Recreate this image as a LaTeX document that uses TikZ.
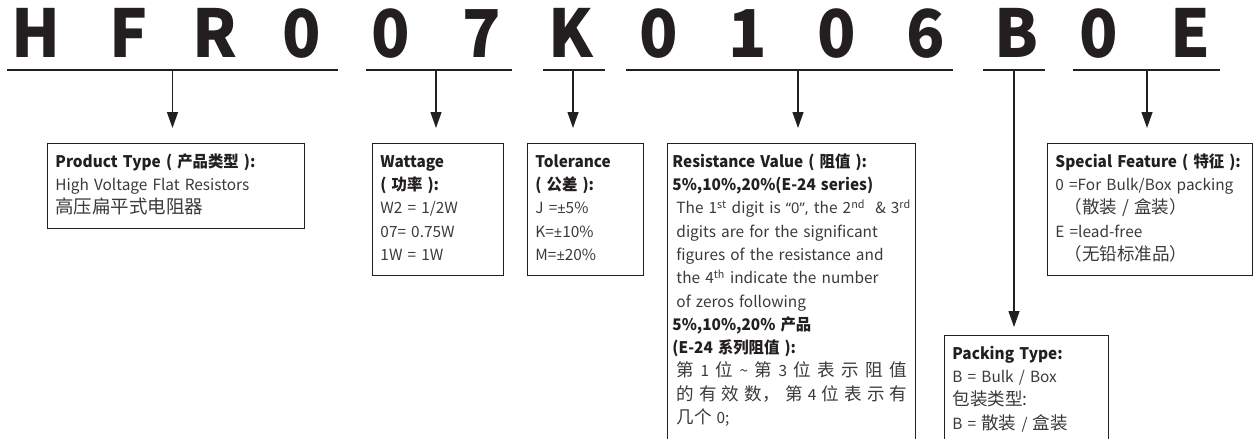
\documentclass[tikz,border=0pt]{standalone}
\usepackage{fontspec}
\setmainfont{Noto Sans CJK SC}[BoldFeatures={FakeStretch=0.96}]
\newfontfamily\zhfont{Noto Sans CJK SC}[Scale=1.14]
\newfontfamily\latfont{Noto Sans}[Scale=0.95]
\usetikzlibrary{arrows.meta}

\definecolor{inkblack}{HTML}{231F20}
\definecolor{bodyink}{HTML}{3A3A3A}
\newcommand\hd[1]{\mbox{\color{inkblack}\fontsize{16}{23.3}\selectfont\bfseries #1}}
\newcommand\zh[1]{{\zhfont #1}}
\newcommand\lat[1]{{\latfont #1}}

\begin{document}
\begin{tikzpicture}[
  x=1pt, y=-1pt,
  code/.style={anchor=base, inner sep=0pt, text=inkblack,
    font=\fontsize{66}{66}\selectfont\bfseries},
  uline/.style={draw=inkblack, line width=2.2pt},
  box/.style={draw=inkblack, line width=0.9pt, anchor=north west, align=left,
    inner xsep=8pt, inner ysep=7.5pt, text=bodyink,
    font=\fontsize{15.4}{23.3}\selectfont,
    execute at begin node=\strut, execute at end node=\strut},
  arr/.style={-{Triangle[length=16pt, width=11pt]}, draw=inkblack, line width=1.3pt},
]
  \useasboundingbox (0,0) rectangle (1253,439);
  \clip (0,0) rectangle (1253,439);

  % part number
  \node[code] (c1) at (36,57) {H};
  \node[code] (c2) at (129,57) {F};
  \node[code] (c3) at (215,57) {R};
  \node[code] (c4) at (302,57) {0};
  \node[code] (c5) at (391,57) {0};
  \node[code] (c6) at (482,57) {7};
  \node[code] (c7) at (571,57) {K};
  \node[code] (c8) at (659,57) {0};
  \node[code] (c9) at (748,57) {1};
  \node[code] (c10) at (837,57) {0};
  \node[code] (c11) at (926,57) {6};
  \node[code] (c12) at (1017,57) {B};
  \node[code] (c13) at (1099,57) {0};
  \node[code] (c14) at (1190,57) {E};

  % groups
  \draw[uline] (7,70) -- (338,70);
  \draw[uline] (366,70) -- (512,70);
  \draw[uline] (543,70) -- (605,70);
  \draw[uline] (626,70) -- (953,70);
  \draw[uline] (983,70) -- (1045,70);
  \draw[uline] (1073,70) -- (1220,70);
  \coordinate (u1) at (172.5,70);
  \coordinate (u2) at (436,70);
  \coordinate (u3) at (573,70);
  \coordinate (u4) at (798,70);
  \coordinate (u5) at (1014,70);
  \coordinate (u6) at (1147,70);

  % descriptions
  \node[box, text width=241pt] (ptype) at (47,143)
    {\hd{Product Type ( 产品类型 ):}\\
     High Voltage Flat Resistors\\
     {\fontsize{18.5}{23.3}\selectfont 高压扁平式电阻器}};
  \node[box, text width=115pt] (watt) at (372,143)
    {\hd{Wattage}\\ \hd{( 功率 ):}\\ W2 = 1/2W\\ 07= 0.75W\\ 1W = 1W};
  \node[box, text width=100pt] (tol) at (527,143)
    {\hd{Tolerance}\\ \hd{( 公差 ):}\\ J =\lat{±}5\%\\ K=\lat{±}10\%\\ M=\lat{±}20\%};
  \node[box, text width=238pt, inner xsep=5pt, text depth=300pt] (res) at (667,143)
    {\hd{Resistance Value ( 阻值 ):}\\
     \hd{5\%,10\%,20\%(E-24 series)}\\
     \mbox{\hspace*{4pt}The 1\textsuperscript{st} digit is \lat{“0”,} the 2\textsuperscript{nd}\ \ \& 3\textsuperscript{rd}}\\
     \hspace*{4pt}digits are for the significant\\
     \hspace*{4pt}figures of the resistance and\\
     \hspace*{4pt}the 4\textsuperscript{th} indicate the number\\
     \hspace*{4pt}of zeros following\\
     \hd{5\%,10\%,20\% 产品}\\
     \hd{(E-24 系列阻值 ):}\\
     \hspace*{4pt}\makebox[231pt][s]{\zh{第}\hfill 1\hfill \zh{位}\hfill \textasciitilde\hfill \zh{第}\hfill 3\hfill \zh{位}\hfill \zh{表}\hfill \zh{示}\hfill \zh{阻}\hfill \zh{值}}\\
     \hspace*{4pt}\makebox[231pt][s]{\zh{的}\hfill \zh{有}\hfill \zh{效}\hfill \zh{数，}\hfill \zh{第}\hfill 4\hfill \zh{位}\hfill \zh{表}\hfill \zh{示}\hfill \zh{有}}\\
     \hspace*{4pt}\zh{几个} 0;};
  \node[box, text width=189pt] (spec) at (1047,143)
    {\hd{Special Feature ( 特征 ):}\\
     0 =For Bulk/Box packing\\
     \hspace*{9pt}\zh{（散装 / 盒装）}\\
     E =lead-free\\
     \hspace*{9pt}\zh{（无铅标准品）}};
  \node[box, text width=148pt, text depth=120pt] (pack) at (944,335)
    {\hd{Packing Type:}\\ B = Bulk / Box\\ \zh{包装类型:}\\ B = \zh{散装} / \zh{盒装}};

  \draw[arr, shorten >=15pt] (u1) -- (u1 |- ptype.north);
  \draw[arr, shorten >=15pt] (u2) -- (u2 |- watt.north);
  \draw[arr, shorten >=15pt] (u3) -- (u3 |- tol.north);
  \draw[arr, shorten >=15pt] (u4) -- (u4 |- res.north);
  \draw[arr, shorten >=8pt] (u5) -- (u5 |- pack.north);
  \draw[arr, shorten >=15pt] (u6) -- (u6 |- spec.north);
\end{tikzpicture}
\end{document}
